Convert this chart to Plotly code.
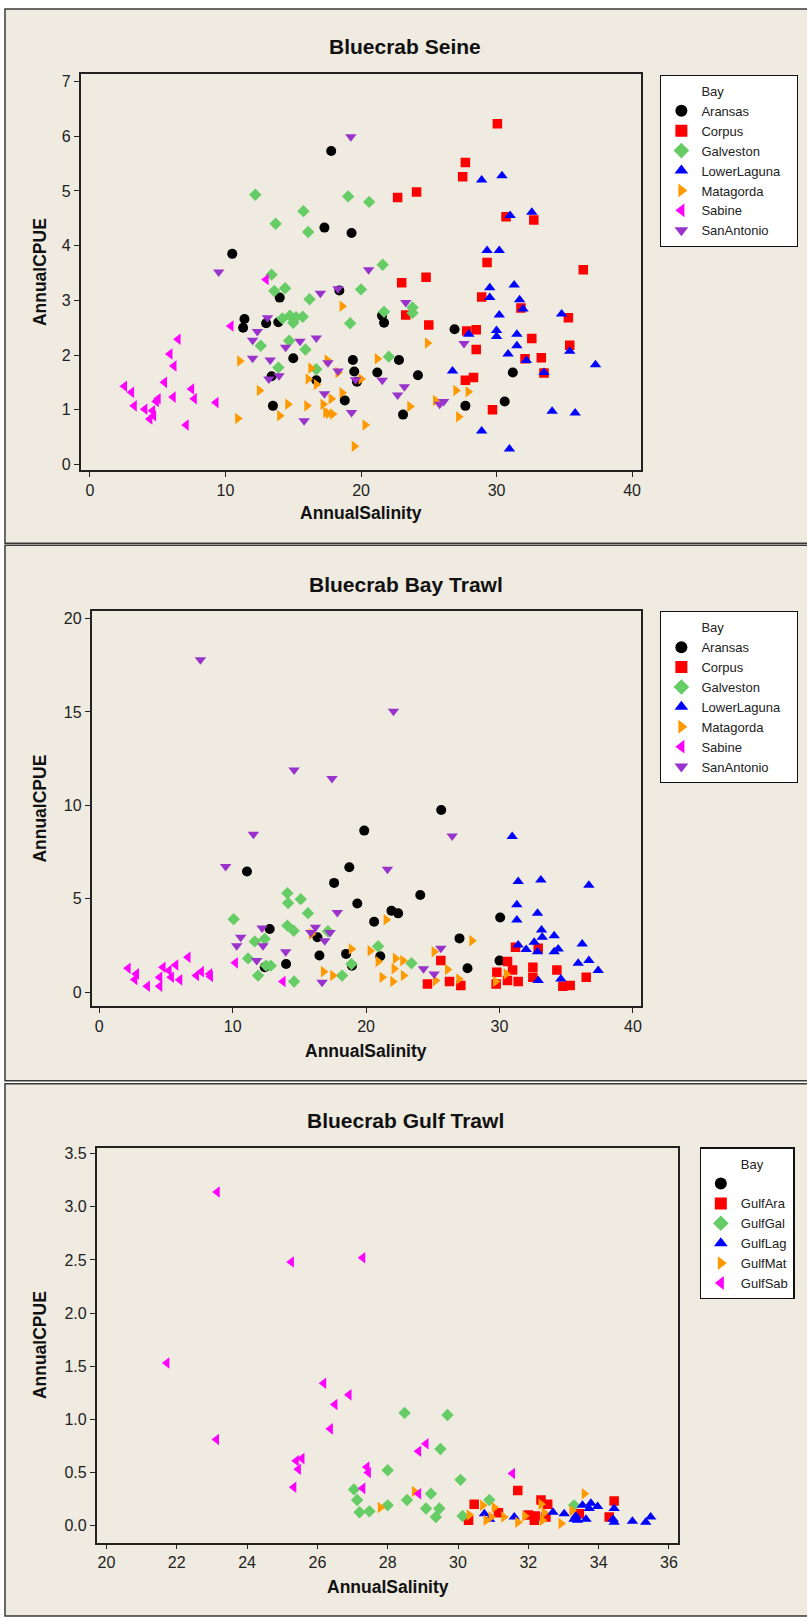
import plotly.graph_objects as go

W, H = 807, 1621

# ---------------- Panel 1: Bluecrab Seine ----------------
seine_aransas_x = [10.5, 11.4, 11.3, 13.0, 13.9, 14.0, 13.4, 13.5, 15.0, 16.7, 17.3, 17.8, 18.4, 18.8, 19.3, 19.4, 19.5, 19.7, 21.2, 21.55, 21.7, 22.8, 23.1, 24.2, 26.9, 27.7, 30.6, 31.2]
seine_aransas_y = [3.85, 2.66, 2.5, 2.58, 2.6, 3.05, 1.61, 1.07, 1.94, 1.54, 4.33, 5.73, 3.18, 1.17, 4.23, 1.91, 1.70, 1.51, 1.68, 2.72, 2.59, 1.91, 0.91, 1.63, 2.47, 1.07, 1.15, 1.68]
seine_corpus_x = [30.06, 27.7, 27.5, 24.1, 22.7, 30.7, 32.75, 29.3, 36.4, 24.8, 23.0, 28.9, 31.8, 23.3, 35.3, 25.0, 27.8, 28.5, 32.6, 28.5, 35.4, 32.1, 33.3, 33.5, 27.7, 28.3, 29.7]
seine_corpus_y = [6.23, 5.52, 5.26, 4.98, 4.88, 4.53, 4.47, 3.69, 3.56, 3.42, 3.32, 3.06, 2.86, 2.73, 2.68, 2.55, 2.44, 2.46, 2.30, 2.10, 2.18, 1.93, 1.95, 1.67, 1.54, 1.59, 1.0]
seine_galveston_x = [12.2, 13.7, 15.75, 16.1, 19.05, 20.6, 21.6, 13.4, 13.6, 14.4, 16.2, 20.0, 19.2, 21.7, 23.8, 23.8, 14.2, 14.75, 15.0, 15.2, 15.7, 14.7, 12.6, 15.9, 13.9, 16.7, 22.05]
seine_galveston_y = [4.93, 4.40, 4.63, 4.25, 4.90, 4.80, 3.65, 3.47, 3.17, 3.22, 3.02, 3.20, 2.58, 2.79, 2.87, 2.77, 2.67, 2.72, 2.59, 2.69, 2.70, 2.26, 2.17, 2.10, 1.77, 1.74, 1.97]
seine_lowerlaguna_x = [28.9, 30.4, 31.0, 32.6, 29.3, 30.2, 29.5, 31.3, 29.5, 31.7, 31.95, 30.2, 34.8, 27.95, 30.0, 30.0, 31.5, 31.5, 30.85, 32.2, 35.4, 37.3, 26.75, 33.5, 34.1, 35.8, 28.9, 30.95]
seine_lowerlaguna_y = [5.20, 5.28, 4.55, 4.61, 3.91, 3.91, 3.23, 3.28, 3.05, 3.01, 2.84, 2.73, 2.75, 2.38, 2.45, 2.34, 2.38, 2.17, 2.02, 1.90, 2.07, 1.82, 1.71, 1.68, 0.97, 0.94, 0.61, 0.28]
seine_matagorda_x = [18.6, 24.9, 11.05, 17.5, 21.2, 16.3, 16.1, 16.7, 18.3, 20.0, 12.5, 18.6, 27.0, 27.9, 25.5, 14.6, 16.0, 17.2, 17.8, 23.6, 10.9, 14.0, 17.4, 17.6, 17.9, 27.2, 20.3, 19.5]
seine_matagorda_y = [2.89, 2.22, 1.89, 1.91, 1.93, 1.76, 1.56, 1.46, 1.68, 1.56, 1.35, 1.31, 1.35, 1.33, 1.17, 1.10, 1.07, 1.10, 1.20, 1.06, 0.84, 0.89, 0.95, 0.93, 0.92, 0.87, 0.72, 0.33]
seine_sabine_x = [13.0, 10.4, 6.5, 5.9, 6.2, 5.5, 2.55, 3.07, 3.27, 4.05, 4.42, 4.62, 4.7, 4.9, 5.03, 6.14, 7.5, 7.7, 7.1, 9.3]
seine_sabine_y = [3.38, 2.53, 2.29, 2.02, 1.80, 1.50, 1.43, 1.32, 1.07, 1.01, 0.83, 0.98, 0.89, 1.15, 1.20, 1.23, 1.38, 1.20, 0.72, 1.13]
seine_sanantonio_x = [19.25, 9.5, 20.56, 18.3, 17.0, 23.3, 13.1, 12.35, 12.0, 16.7, 15.5, 14.44, 27.6, 12.0, 13.3, 17.56, 18.3, 13.95, 13.2, 19.6, 21.57, 23.2, 17.3, 22.7, 26.1, 25.8, 19.3, 15.8]
seine_sanantonio_y = [5.99, 3.52, 3.56, 3.21, 3.13, 2.96, 2.68, 2.43, 2.27, 2.31, 2.25, 2.14, 2.21, 1.94, 1.91, 1.86, 1.71, 1.62, 1.56, 1.55, 1.54, 1.42, 1.29, 1.27, 1.15, 1.10, 0.95, 0.80]

# ---------------- Panel 2: Bluecrab Bay Trawl ----------------
bay_aransas_x = [11.07, 19.86, 18.74, 17.6, 19.34, 12.77, 14.0, 16.35, 16.5, 18.5, 18.94, 12.4, 25.63, 24.06, 21.9, 22.4, 20.6, 30.05, 27.0, 21.06, 27.6, 30.0]
bay_aransas_y = [6.46, 8.65, 6.69, 5.85, 4.75, 3.38, 1.51, 2.94, 1.96, 2.05, 1.42, 1.33, 9.75, 5.2, 4.36, 4.22, 3.77, 4.0, 2.88, 1.92, 1.28, 1.69]
bay_corpus_x = [25.6, 24.6, 26.25, 27.1, 31.2, 32.9, 30.6, 30.98, 29.8, 29.75, 30.6, 31.4, 32.5, 32.5, 34.3, 34.75, 35.3, 36.5]
bay_corpus_y = [1.69, 0.44, 0.57, 0.36, 2.40, 2.35, 1.64, 1.19, 1.07, 0.44, 0.62, 0.57, 1.33, 0.80, 1.19, 0.32, 0.36, 0.80]
bay_galveston_x = [14.1, 14.15, 15.1, 15.64, 10.07, 14.1, 14.57, 17.14, 11.65, 12.4, 11.15, 12.5, 12.85, 11.9, 14.6, 18.2, 18.9, 20.9, 23.4]
bay_galveston_y = [5.30, 4.77, 4.98, 4.23, 3.91, 3.56, 3.29, 3.26, 2.72, 2.85, 1.81, 1.42, 1.42, 0.89, 0.57, 0.89, 1.51, 2.46, 1.55]
bay_lowerlaguna_x = [30.95, 31.4, 33.1, 36.7, 31.3, 32.85, 31.3, 33.15, 33.2, 34.1, 31.4, 32.0, 32.6, 32.85, 34.1, 34.4, 36.2, 35.9, 36.7, 37.4, 32.9, 34.6]
bay_lowerlaguna_y = [8.33, 5.93, 6.01, 5.73, 4.68, 4.23, 3.86, 3.33, 2.94, 3.02, 2.53, 2.28, 2.67, 2.17, 2.17, 2.31, 2.58, 1.55, 1.69, 1.16, 0.62, 0.71]
bay_matagorda_x = [15.9, 16.8, 17.5, 18.89, 21.5, 27.93, 20.3, 20.9, 22.2, 22.75, 22.1, 22.8, 21.2, 22.0, 25.1, 26.1, 25.2, 26.95, 29.7, 30.5]
bay_matagorda_y = [3.11, 1.10, 0.89, 2.31, 3.88, 2.76, 2.22, 1.64, 1.81, 1.69, 1.25, 0.89, 0.80, 0.57, 2.17, 1.21, 0.62, 0.71, 0.57, 0.98]
bay_sabine_x = [2.16, 2.78, 2.66, 3.6, 4.53, 4.53, 4.78, 5.23, 5.4, 5.73, 6.03, 6.65, 7.28, 7.65, 8.28, 8.33, 10.2, 13.77]
bay_sabine_y = [1.28, 0.98, 0.68, 0.32, 0.32, 0.80, 1.33, 1.16, 0.80, 1.46, 0.66, 1.87, 0.89, 1.10, 0.98, 0.84, 1.57, 0.57]
bay_sanantonio_x = [7.58, 14.6, 17.44, 11.55, 9.47, 17.84, 12.2, 10.6, 10.3, 12.27, 11.8, 13.97, 16.2, 15.85, 16.9, 17.3, 16.7, 22.05, 26.45, 21.6, 25.6, 24.3, 25.1]
bay_sanantonio_y = [17.79, 11.89, 11.44, 8.45, 6.73, 4.27, 3.43, 2.94, 2.49, 2.49, 1.69, 2.17, 3.47, 3.20, 2.76, 3.20, 0.53, 15.04, 8.36, 6.58, 2.35, 1.25, 0.98]

# ---------------- Panel 3: Bluecrab Gulf Trawl ----------------
gulf_ara_x = [31.7, 30.46, 30.3, 31.15, 32.0, 32.2, 32.36, 32.55, 32.5, 33.45, 34.44, 34.3, 32.17]
gulf_ara_y = [0.33, 0.20, 0.05, 0.12, 0.10, 0.09, 0.24, 0.20, 0.08, 0.11, 0.23, 0.08, 0.05]
gulf_gal_x = [28.48, 29.7, 29.5, 28.0, 30.07, 29.23, 28.55, 29.09, 29.47, 29.37, 28.0, 30.13, 30.89, 33.3, 27.04, 27.13, 27.2, 27.48]
gulf_gal_y = [1.06, 1.04, 0.72, 0.52, 0.43, 0.30, 0.24, 0.16, 0.16, 0.08, 0.19, 0.09, 0.24, 0.19, 0.34, 0.24, 0.125, 0.134]
gulf_lag_x = [30.75, 30.9, 31.6, 32.7, 33.02, 33.3, 33.4, 33.64, 33.54, 33.78, 33.97, 33.73, 34.44, 34.41, 34.44, 34.96, 35.48, 35.34, 33.35]
gulf_lag_y = [0.11, 0.06, 0.08, 0.125, 0.11, 0.06, 0.05, 0.06, 0.19, 0.21, 0.18, 0.16, 0.16, 0.06, 0.03, 0.04, 0.08, 0.03, 0.09]
gulf_mat_x = [33.59, 28.76, 27.79, 30.32, 30.7, 30.8, 31.03, 30.94, 31.3, 31.7, 31.9, 32.36, 32.4, 32.45, 32.93, 33.24]
gulf_mat_y = [0.30, 0.32, 0.17, 0.10, 0.19, 0.05, 0.17, 0.08, 0.08, 0.03, 0.09, 0.20, 0.05, 0.12, 0.02, 0.14]
gulf_sab_x = [23.15, 25.26, 27.29, 21.72, 26.18, 26.9, 26.5, 26.37, 23.13, 25.4, 25.56, 25.46, 25.33, 27.41, 27.45, 27.29, 29.09, 28.88, 28.88, 31.55]
gulf_sab_y = [3.14, 2.48, 2.52, 1.53, 1.34, 1.23, 1.14, 0.91, 0.81, 0.61, 0.63, 0.53, 0.36, 0.55, 0.50, 0.35, 0.77, 0.70, 0.30, 0.49]

titles = ["Bluecrab Seine", "Bluecrab Bay Trawl", "Bluecrab Gulf Trawl"]
x_title = "AnnualSalinity"
y_title = "AnnualCPUE"
legend_title = "Bay"

BLACK, RED, GREEN, BLUE, ORANGE, MAGENTA, PURPLE = (
    "#000000", "#FF0000", "#66CC66", "#0000FF", "#FF9900", "#FF00FF", "#9933CC")
SYM = {"circle": 10, "square": 9.5, "diamond": 9.5, "triangle-up": 10,
       "triangle-right": 10, "triangle-left": 10, "triangle-down": 10}

NB = "\u00a0"
panel1 = [("Aransas", seine_aransas_x, seine_aransas_y, "circle", BLACK),
          ("Corpus", seine_corpus_x, seine_corpus_y, "square", RED),
          ("Galveston", seine_galveston_x, seine_galveston_y, "diamond", GREEN),
          ("LowerLaguna" + NB * 3, seine_lowerlaguna_x, seine_lowerlaguna_y, "triangle-up", BLUE),
          ("Matagorda", seine_matagorda_x, seine_matagorda_y, "triangle-right", ORANGE),
          ("Sabine", seine_sabine_x, seine_sabine_y, "triangle-left", MAGENTA),
          ("SanAntonio", seine_sanantonio_x, seine_sanantonio_y, "triangle-down", PURPLE)]
panel2 = [("Aransas", bay_aransas_x, bay_aransas_y, "circle", BLACK),
          ("Corpus", bay_corpus_x, bay_corpus_y, "square", RED),
          ("Galveston", bay_galveston_x, bay_galveston_y, "diamond", GREEN),
          ("LowerLaguna" + NB * 3, bay_lowerlaguna_x, bay_lowerlaguna_y, "triangle-up", BLUE),
          ("Matagorda", bay_matagorda_x, bay_matagorda_y, "triangle-right", ORANGE),
          ("Sabine", bay_sabine_x, bay_sabine_y, "triangle-left", MAGENTA),
          ("SanAntonio", bay_sanantonio_x, bay_sanantonio_y, "triangle-down", PURPLE)]
panel3 = [(NB, [None], [None], "circle", BLACK),
          ("GulfAra", gulf_ara_x, gulf_ara_y, "square", RED),
          ("GulfGal", gulf_gal_x, gulf_gal_y, "diamond", GREEN),
          ("GulfLag", gulf_lag_x, gulf_lag_y, "triangle-up", BLUE),
          ("GulfMat", gulf_mat_x, gulf_mat_y, "triangle-right", ORANGE),
          ("GulfSab", gulf_sab_x, gulf_sab_y, "triangle-left", MAGENTA)]


def px(x):
    return x / W


def py(y):
    return 1 - y / H


# plot-area pixel boxes (left, right, top, bottom)
boxes = [(80.7, 641.7, 72.7, 469.3), (91.7, 641.7, 611.0, 1007.3), (96.7, 679.3, 1149.3, 1545.3)]
xranges = [[-0.69, 40.65], [-0.58, 40.6], [19.72, 36.27]]
yranges = [[-0.1, 7.13], [-0.75, 20.4], [-0.16, 3.556]]
xdticks = [10, 10, 2]
ydticks = [1, 5, 0.5]
yfmts = ["d", "d", ".1f"]
legend_pos = [(661, 73), (661, 611), (700.5, 1149)]
title_y = [45, 584, 1122]
title_x = [406, 407, 406]
xlab_y = [513, 1052, 1590]
panel_frames = [(7, 543), (545, 1082), (1085, 1619)]

fig = go.Figure()
FONT = "Liberation Sans, Arial, sans-serif"

for i, panel in enumerate([panel1, panel2, panel3]):
    n = "" if i == 0 else str(i + 1)
    leg = "legend" + n
    # legend header entry
    fig.add_trace(go.Scatter(x=[None], y=[None], mode="markers", name=legend_title,
                             marker=dict(color="rgba(0,0,0,0)", size=1),
                             xaxis="x" + n, yaxis="y" + n, legend=leg, hoverinfo="skip"))
    for name, xs, ys, sym, col in panel:
        fig.add_trace(go.Scatter(x=xs, y=ys, mode="markers", name=name,
                                 marker=dict(symbol=sym, color=col, size=SYM[sym],
                                             line=dict(width=0)),
                                 xaxis="x" + n, yaxis="y" + n, legend=leg))
    l, r, t, b = boxes[i]
    axcommon = dict(showline=True, linecolor="#222222", linewidth=1.5, mirror=True,
                    ticks="outside", ticklen=5, tickwidth=1.2, tickcolor="#222222",
                    showgrid=False, zeroline=False,
                    tickfont=dict(family=FONT, size=16, color="#222222"))
    fig.layout["xaxis" + n] = dict(domain=[px(l), px(r)], range=xranges[i], dtick=xdticks[i],
                                   tick0=0, anchor="y" + n, **axcommon)
    fig.layout["yaxis" + n] = dict(domain=[py(b), py(t)], range=yranges[i], dtick=ydticks[i],
                                   tick0=0, tickformat=yfmts[i], anchor="x" + n, **axcommon)
    lx, ly = legend_pos[i]
    fig.layout[leg] = dict(x=px(lx), y=py(ly), xanchor="left", yanchor="top",
                           bgcolor="white", bordercolor="#111111", borderwidth=1.2,
                           font=dict(family=FONT, size=13, color="#222222"),
                           itemsizing="constant",
                           itemclick=False, tracegroupgap=0)
    fig.add_annotation(x=px(title_x[i]), y=py(title_y[i]), xref="paper", yref="paper",
                       text="<b>%s</b>" % titles[i], showarrow=False,
                       font=dict(family=FONT, size=21, color="#111111"),
                       xanchor="center", yanchor="middle")
    fig.add_annotation(x=px((l + r) / 2), y=py(xlab_y[i]), xref="paper", yref="paper",
                       text="<b>%s</b>" % x_title, showarrow=False,
                       font=dict(family=FONT, size=17.5, color="#111111"),
                       xanchor="center", yanchor="middle")
    fig.add_annotation(x=px(40), y=py((t + b) / 2), xref="paper", yref="paper",
                       text="<b>%s</b>" % y_title, showarrow=False, textangle=-90,
                       font=dict(family=FONT, size=17.5, color="#111111"),
                       xanchor="center", yanchor="middle")
    f0, f1 = panel_frames[i]
    fig.add_shape(type="rect", xref="paper", yref="paper", x0=px(5), x1=1.01,
                  y0=py(f1), y1=py(f0), fillcolor="#EFEBE0",
                  line=dict(color="#3a3a3a", width=1.5), layer="below")

fig.update_layout(width=W, height=H, margin=dict(l=0, r=0, t=0, b=0),
                  paper_bgcolor="white", plot_bgcolor="white", showlegend=True)

fig.write_html("out.html", config={"displayModeBar": False},
               post_script="document.body.style.margin='0';document.body.style.padding='0';"
                           "document.body.style.overflow='hidden';")
